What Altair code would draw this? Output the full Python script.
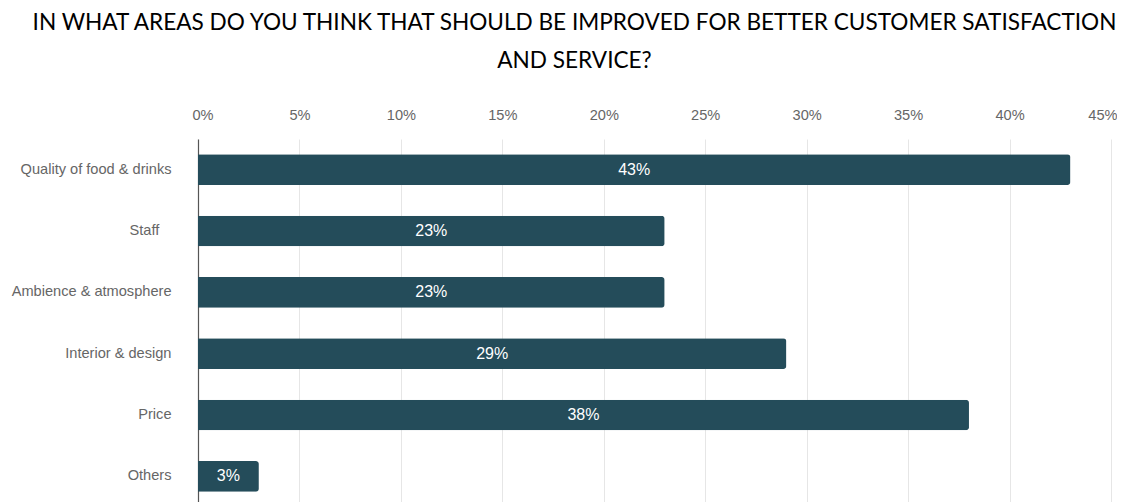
import altair as alt
import pandas as pd

categories = ["Quality of food & drinks", "Staff", "Ambience & atmosphere",
              "Interior & design", "Price", "Others"]
values = [43, 23, 23, 29, 38, 3]
tick_values = [0, 5, 10, 15, 20, 25, 30, 35, 40, 45]
title_lines = ["IN WHAT AREAS DO YOU THINK THAT SHOULD BE IMPROVED FOR BETTER CUSTOMER SATISFACTION",
               "AND SERVICE?"]

df = pd.DataFrame({"category": categories, "value": values})
df["label"] = df["value"].astype(str) + "%"
df["mid"] = df["value"] / 2

y_enc = alt.Y("category:N", sort=categories, title=None,
              scale=alt.Scale(paddingInner=0.5, paddingOuter=0.25),
              axis=alt.Axis(ticks=False, labelPadding=27, labelFontSize=14.6,
                            labelColor="#666666", labelFont="Liberation Sans",
                            labelExpr="datum.value == 'Staff' ? 'Staff\u00a0\u00a0\u00a0\u200b' : datum.value",
                            domainColor="#555555", domainWidth=1.2, grid=False))

bars = alt.Chart(df).mark_bar(color="#244C5A", cornerRadiusEnd=3).encode(
    x=alt.X("value:Q", title=None,
            scale=alt.Scale(domain=[0, 45], nice=False),
            axis=alt.Axis(orient="top", values=tick_values, labelExpr="datum.value + '%'",
                          ticks=False, domain=False, labelPadding=17, labelFontSize=14.6,
                          labelFlush=True, labelFlushOffset=6,
                          labelColor="#666666", labelFont="Liberation Sans",
                          gridColor="#e6e6e6", gridWidth=1)),
    y=y_enc,
)

labels = alt.Chart(df).mark_text(color="white", fontSize=16, font="Liberation Sans").encode(
    x=alt.X("mid:Q"),
    y=alt.Y("category:N", sort=categories),
    text="label:N",
)

chart = alt.layer(bars, labels).properties(
    width=913, height=368,
    autosize=alt.AutoSizeParams(type="none"),
    padding={"left": 190, "top": 131, "right": 6, "bottom": 0},
    title=alt.TitleParams(text=title_lines, font="Lato", fontSize=22.6, fontWeight="normal",
                          color="#000000", anchor="middle", dx=-80, offset=34, lineHeight=38),
).configure_view(stroke=None)

chart.save("out.html", embed_options={"renderer": "svg", "actions": False})
